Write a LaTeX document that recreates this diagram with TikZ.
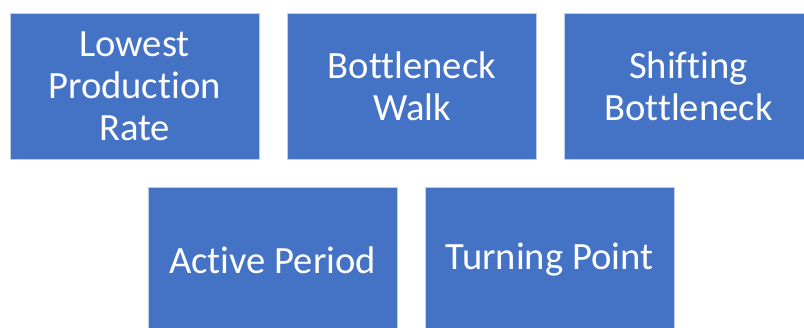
\documentclass[tikz,border=0pt]{standalone}
\usepackage{fontspec}
\setmainfont{Carlito}[Ligatures=NoCommon]
\usetikzlibrary{positioning}
\definecolor{boxBlue}{HTML}{4472C4}
\tikzset{
    ideaBox/.style={rectangle, draw=boxBlue!35!white, line width=0.4pt, fill=boxBlue, text=white, minimum width=124.5pt, minimum height=73pt, inner sep=0pt, align=center, font=\fontsize{19.3}{21}\selectfont},
}

\begin{document}
\begin{tikzpicture}[x=0.5pt, y=-0.5pt]
        \useasboundingbox (0,0) rectangle (804,327);
        \clip (0,0) rectangle (804,327);

        % upper row
        \node[ideaBox] (rate) at (134.5, 86) {Lowest\\Production\\Rate};
        \node[ideaBox] (walk) at (412, 86) {Bottleneck\\Walk};
        \node[ideaBox] (shift) at (688.5, 86) {Shifting\\Bottleneck};

        % lower row
        \node[ideaBox] (active) at (272.5, 260) {Active Period};
        \node[ideaBox] (turn) at (549.5, 260) {Turning Point};

    \end{tikzpicture}
\end{document}
